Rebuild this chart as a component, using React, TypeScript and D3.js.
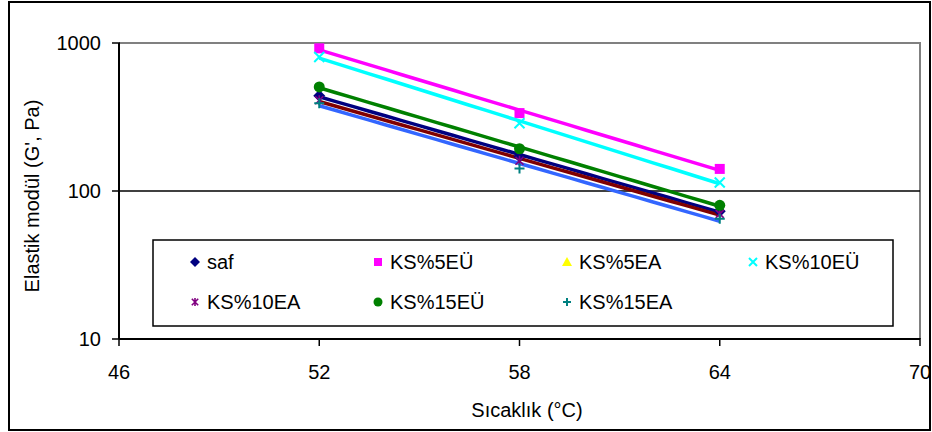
import React from 'react';
import * as d3 from 'd3';

// temperatures (°C)
const temps = [52, 58, 64];

// elastic modulus G' (Pa)
const saf = [440, 171, 73];
const ks5EU = [920, 336, 141];
const ks5EA: number[] = [];
const ks10EU = [805, 287, 114];
const ks10EA = [410, 160, 70];
const ks15EU = [505, 193, 80];
const ks15EA = [392, 142, 65];

const xTicks = [46, 52, 58, 64, 70];
const yTicks = [10, 100, 1000];

const series = [
  { name: 'saf', values: saf, marker: 'diamond', color: '#000080', trend: '#000080' },
  { name: 'KS%5EÜ', values: ks5EU, marker: 'square', color: '#FF00FF', trend: '#FF00FF' },
  { name: 'KS%5EA', values: ks5EA, marker: 'triangle', color: '#FFFF00', trend: '#FFFF00' },
  { name: 'KS%10EÜ', values: ks10EU, marker: 'x', color: '#00FFFF', trend: '#00FFFF' },
  { name: 'KS%10EA', values: ks10EA, marker: 'star', color: '#800080', trend: '#800000' },
  { name: 'KS%15EÜ', values: ks15EU, marker: 'circle', color: '#008000', trend: '#008000' },
  { name: 'KS%15EA', values: ks15EA, marker: 'plus', color: '#008080', trend: '#3366FF' },
];

const font = '"Liberation Sans", Arial, sans-serif';

const Marker = ({ type, x, y, color, s }: { type: string; x: number; y: number; color: string; s: number }) => {
  const h = s / 2;
  switch (type) {
    case 'diamond':
      return <path d={`M${x},${y - h - 1}L${x + h + 1},${y}L${x},${y + h + 1}L${x - h - 1},${y}Z`} fill={color} />;
    case 'square':
      return <rect x={x - h} y={y - h} width={s} height={s} fill={color} />;
    case 'triangle':
      return <path d={`M${x},${y - h - 1}L${x + h + 1},${y + h}L${x - h - 1},${y + h}Z`} fill={color} />;
    case 'circle':
      return <circle cx={x} cy={y} r={h + 0.5} fill={color} />;
    case 'x':
      return (
        <path d={`M${x - h},${y - h}L${x + h},${y + h}M${x - h},${y + h}L${x + h},${y - h}`} stroke={color} strokeWidth={2} />
      );
    case 'plus':
      return <path d={`M${x - h},${y}L${x + h},${y}M${x},${y - h}L${x},${y + h}`} stroke={color} strokeWidth={2} />;
    default:
      return (
        <path
          d={`M${x - h * 0.8},${y - h * 0.8}L${x + h * 0.8},${y + h * 0.8}M${x - h * 0.8},${y + h * 0.8}L${x + h * 0.8},${y - h * 0.8}M${x},${y - h}L${x},${y + h}`}
          stroke={color}
          strokeWidth={1.6}
        />
      );
  }
};

// exponential trend line: least squares on ln(y)
function expFit(xs: number[], ys: number[]) {
  const ly = ys.map((v) => Math.log(v));
  const mx = d3.mean(xs)!;
  const my = d3.mean(ly)!;
  const b = d3.sum(xs, (x, i) => (x - mx) * (ly[i] - my)) / d3.sum(xs, (x) => (x - mx) ** 2);
  const a = my - b * mx;
  return (x: number) => Math.exp(a + b * x);
}

export default function App() {
  const width = 932;
  const height = 432;
  const x = d3.scaleLinear().domain([46, 70]).range([119, 920]);
  const y = d3.scaleLog().domain([10, 1000]).range([339, 43]);

  const legendCols = [195, 378, 567, 753];
  const legendRows = [262, 302];

  return (
    <div style={{ position: 'fixed', left: 0, top: 0 }}>
      <svg width={width} height={height} style={{ display: 'block', fontFamily: font }}>
        <rect x={0} y={0} width={width} height={height} fill="#fff" />
        <rect x={9} y={2} width={921} height={428} fill="none" stroke="#000" strokeWidth={2} />

        {/* plot area border */}
        <path d={`M${x(46)},${y(1000)}H${x(70)}V${y(10)}`} fill="none" stroke="#808080" strokeWidth={2} />
        {/* gridline */}
        <line x1={x(46)} x2={x(70)} y1={y(100)} y2={y(100)} stroke="#000" strokeWidth={1.5} />

        {/* axes */}
        <line x1={x(46)} x2={x(46)} y1={y(1000)} y2={y(10)} stroke="#000" strokeWidth={2} />
        <line x1={x(46)} x2={x(70)} y1={y(10)} y2={y(10)} stroke="#000" strokeWidth={2} />
        {yTicks.map((t) => (
          <g key={t}>
            <line x1={x(46) - 7} x2={x(46) + 1} y1={y(t)} y2={y(t)} stroke="#000" strokeWidth={1.5} />
            <text x={101} y={y(t)} dy="0.35em" textAnchor="end" fontSize={20}>
              {t}
            </text>
          </g>
        ))}
        {xTicks.map((t) => (
          <g key={t}>
            <line x1={x(t)} x2={x(t)} y1={y(10) - 1} y2={y(10) + 7} stroke="#000" strokeWidth={1.5} />
            <text x={x(t)} y={372} dy="0.35em" textAnchor="middle" fontSize={20}>
              {t}
            </text>
          </g>
        ))}

        <text x={527} y={410} dy="0.35em" textAnchor="middle" fontSize={20}>
          Sıcaklık (°C)
        </text>
        <text transform="translate(32,196) rotate(-90)" dy="0.35em" textAnchor="middle" fontSize={20}>
          Elastik modül (G', Pa)
        </text>

        {/* trend lines */}
        {series
          .filter((s) => s.values.length > 1)
          .map((s) => {
            const f = expFit(temps, s.values);
            const pts = d3.range(52, 64.01, 0.5).map((t) => [x(t), y(f(t))] as [number, number]);
            return <path key={s.name} d={d3.line()(pts)!} fill="none" stroke={s.trend} strokeWidth={3.5} />;
          })}

        {/* markers */}
        {series.map((s) =>
          s.values.map((v, i) => (
            <Marker key={s.name + i} type={s.marker} x={x(temps[i])} y={y(v)} color={s.color} s={10} />
          ))
        )}

        {/* legend */}
        <rect x={153} y={240} width={740} height={86} fill="#fff" stroke="#000" strokeWidth={1.5} />
        {series.map((s, i) => {
          const cx = legendCols[i % 4];
          const cy = legendRows[Math.floor(i / 4)];
          return (
            <g key={s.name}>
              <Marker type={s.marker} x={cx} y={cy} color={s.color} s={8} />
              <text x={cx + 12} y={cy} dy="0.35em" fontSize={20}>
                {s.name}
              </text>
            </g>
          );
        })}
      </svg>
    </div>
  );
}
